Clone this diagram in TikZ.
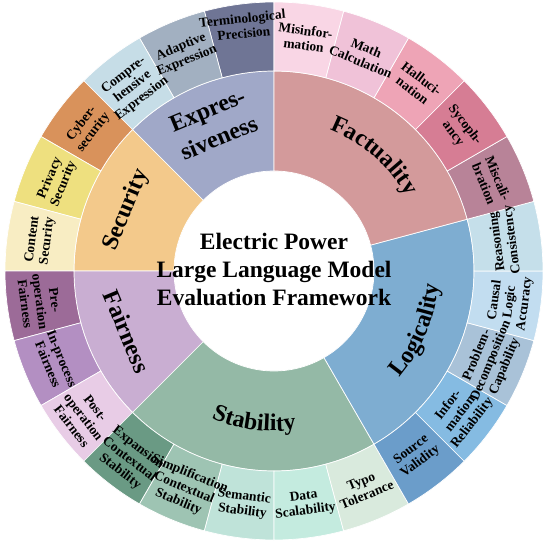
\documentclass[tikz,border=0pt]{standalone}
\usepackage{fontspec}
\setmainfont{Liberation Serif}
\usetikzlibrary{decorations.text}
% inner ring colours
\definecolor{cExp}{HTML}{A0A8C8}
\definecolor{cSec}{HTML}{F3C98B}
\definecolor{cFai}{HTML}{C9AED2}
\definecolor{cSta}{HTML}{94B9A6}
\definecolor{cLog}{HTML}{7EADD1}
\definecolor{cFac}{HTML}{D39A9B}
% outer ring colours
\definecolor{oTer}{HTML}{6F7595}
\definecolor{oAda}{HTML}{A2B0C1}
\definecolor{oCom}{HTML}{C6DDE7}
\definecolor{oCyb}{HTML}{D9925B}
\definecolor{oPri}{HTML}{EEE07F}
\definecolor{oCon}{HTML}{F8EDC3}
\definecolor{oPre}{HTML}{9C6B98}
\definecolor{oInp}{HTML}{B38FC2}
\definecolor{oPos}{HTML}{E8CCE6}
\definecolor{oExpa}{HTML}{6A9A84}
\definecolor{oSimp}{HTML}{9EC4B3}
\definecolor{oSem}{HTML}{BFE3D9}
\definecolor{oDat}{HTML}{C4EBDF}
\definecolor{oTyp}{HTML}{D9EADD}
\definecolor{oSrc}{HTML}{6B9DCA}
\definecolor{oInf}{HTML}{85BBE2}
\definecolor{oPro}{HTML}{A9C2D8}
\definecolor{oCau}{HTML}{C2DDF0}
\definecolor{oRea}{HTML}{C5DFEA}
\definecolor{oMis}{HTML}{F9D6E5}
\definecolor{oMat}{HTML}{F0C2D8}
\definecolor{oHal}{HTML}{EEA4B6}
\definecolor{oSyc}{HTML}{D67D94}
\definecolor{oMca}{HTML}{B88398}
\newcommand\ringseg[5]{\fill[fill=#5, draw=white, line width=0.7pt] (#3:#1pt) arc[start angle=#3, end angle=#4, radius=#1pt] -- (#4:#2pt) arc[start angle=#4, end angle=#3, radius=#2pt] -- cycle;}
\tikzset{
  olab/.style={font=\bfseries\fontsize{13.5}{15}\selectfont, align=center, inner sep=0pt},
  ilab/.style={font=\bfseries\fontsize{24}{30}\selectfont, align=center, inner sep=0pt},
  arclab/.style={decorate, decoration={text along path, text align=center, text={|\bfseries\fontsize{24}{24}\selectfont|#1}}}
}
\begin{document}
\begin{tikzpicture}
\useasboundingbox (-274pt,-273pt) rectangle (276pt,271pt);
\fill[white] (-274pt,-273pt) rectangle (276pt,271pt);
% inner ring
\ringseg{100}{200}{90}{135}{cExp}
\ringseg{100}{200}{135}{180}{cSec}
\ringseg{100}{200}{180}{225}{cFai}
\ringseg{100}{200}{225}{300}{cSta}
\ringseg{100}{200}{300}{375}{cLog}
\ringseg{100}{200}{15}{90}{cFac}
% outer ring
\ringseg{200}{269}{90}{105}{oTer}
\ringseg{200}{269}{105}{120}{oAda}
\ringseg{200}{269}{120}{135}{oCom}
\ringseg{200}{269}{135}{150}{oCyb}
\ringseg{200}{269}{150}{165}{oPri}
\ringseg{200}{269}{165}{180}{oCon}
\ringseg{200}{269}{180}{195}{oPre}
\ringseg{200}{269}{195}{210}{oInp}
\ringseg{200}{269}{210}{225}{oPos}
\ringseg{200}{269}{225}{240}{oExpa}
\ringseg{200}{269}{240}{255}{oSimp}
\ringseg{200}{269}{255}{270}{oSem}
\ringseg{200}{269}{270}{285}{oDat}
\ringseg{200}{269}{285}{300}{oTyp}
\ringseg{200}{269}{300}{315}{oSrc}
\ringseg{200}{269}{315}{330}{oInf}
\ringseg{200}{269}{330}{345}{oPro}
\ringseg{200}{269}{345}{360}{oCau}
\ringseg{200}{269}{0}{15}{oRea}
\ringseg{200}{269}{15}{30}{oMca}
\ringseg{200}{269}{30}{45}{oSyc}
\ringseg{200}{269}{45}{60}{oHal}
\ringseg{200}{269}{60}{75}{oMat}
\ringseg{200}{269}{75}{90}{oMis}
% centre title
\node[font=\bfseries\fontsize{23.5}{28}\selectfont, align=center] (title) at (0pt,2pt) {Electric Power\\Large Language Model\\Evaluation Framework};
% inner labels
\node[ilab, rotate=22.5] (expr) at (112.5:159pt) {Expres-\\siveness};
\node[ilab, rotate=67.5] (secu) at (157.5:160pt) {Security};
\node[ilab, rotate=-67.5] (fair) at (202.5:159pt) {Fairness};
\path[arclab=Factuality] (82:152pt) arc[start angle=82, end angle=16, radius=152pt];
\path[arclab=Stability] (230:160pt) arc[start angle=230, end angle=295, radius=160pt];
\path[arclab=Logicality] (-55:165pt) arc[start angle=-55, end angle=10, radius=165pt];
% outer labels
\node[olab, rotate=6] (ter) at (97.2:247pt) {Terminological\\Precision};
\node[olab, rotate=22.5] (ada) at (112.5:235pt) {Adaptive\\Expression};
\node[olab, rotate=37.5] (com) at (127.5:232pt) {Compre-\\hensive\\Expression};
\node[olab, rotate=52.5] (cyb) at (142.5:235pt) {Cyber-\\security};
\node[olab, rotate=67.5] (pri) at (157.5:235pt) {Privacy\\Security};
\node[olab, rotate=82.5] (con) at (172.5:236pt) {Content\\Security};
\node[olab, rotate=-82.5] (pre) at (187.5:236pt) {Pre-\\operation\\Fairness};
\node[olab, rotate=-67.5] (inp) at (202.5:237pt) {In-process\\Fairness};
\node[olab, rotate=-52.5] (pos) at (217.5:240pt) {Post-\\operation\\Fairness};
\node[olab, rotate=-37.5] (expa) at (232.5:238pt) {Expansion\\Contextual\\Stability};
\node[olab, rotate=-22.5] (simp) at (247.5:235pt) {Simplification\\Contextual\\Stability};
\node[olab, rotate=-7.5] (sem) at (262.5:235pt) {Semantic\\Stability};
\node[olab, rotate=7.5] (dat) at (277.5:235pt) {Data\\Scalability};
\node[olab, rotate=22.5] (typ) at (292.5:235pt) {Typo\\Tolerance};
\node[olab, rotate=37.5] (src) at (307.5:233pt) {Source\\Validity};
\node[olab, rotate=52.5] (inf) at (322.5:235pt) {Infor-\\mation\\Reliability};
\node[olab, rotate=67.5] (pro) at (337.5:235pt) {Problem-\\Decomposition\\Capability};
\node[olab, rotate=82.5] (cau) at (352.5:238pt) {Causal\\Logic\\Accuracy};
\node[olab, rotate=97.5] (rea) at (7.5:233pt) {Reasoning\\Consistency};
\node[olab, rotate=-67.5] (mca) at (22.5:235pt) {Miscali-\\bration};
\node[olab, rotate=-52.5] (syc) at (37.5:233pt) {Sycoph-\\ancy};
\node[olab, rotate=-37.5] (hal) at (52.5:235pt) {Halluci-\\nation};
\node[olab, rotate=-22.5] (mat) at (67.5:234pt) {Math\\Calculation};
\node[olab, rotate=-7.5] (mis) at (82.5:235pt) {Misinfor-\\mation};
\end{tikzpicture}
\end{document}
